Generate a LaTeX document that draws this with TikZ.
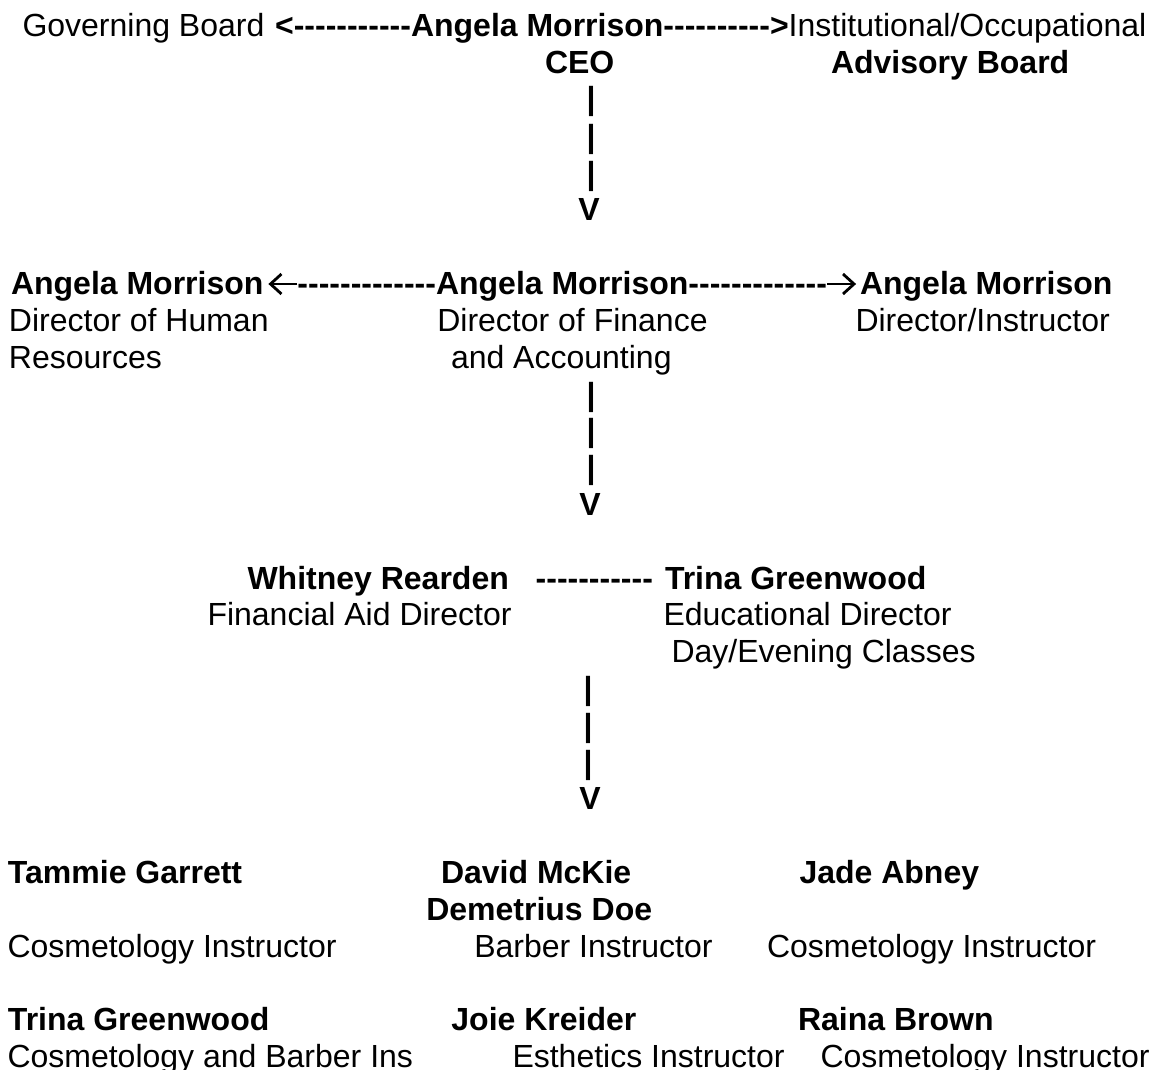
\documentclass[tikz,border=0pt]{standalone}
\usepackage{fontspec}
\newfontfamily\af{Liberation Sans}
\ExplSyntaxOn
\cs_new:Npn \dashrun #1 {\prg_replicate:nn{#1}{-\kern0pt}}
\ExplSyntaxOff
\tikzset{
  rg/.style={inner sep=0pt, outer sep=0pt, anchor=base west, font=\af\fontsize{32}{36.85}\selectfont},
  bd/.style={inner sep=0pt, outer sep=0pt, anchor=base west, font=\af\bfseries\fontsize{32}{36.85}\selectfont},
  bar/.style={bd, anchor=base},
  glyph/.style={line width=2.8pt, line cap=butt, line join=miter}
}
\begin{document}
\begin{tikzpicture}[x=1pt,y=-1pt]
\fill[white] (0,0) rectangle (1153,1070);
\useasboundingbox (0,0) rectangle (1153,1070);
% row 0-1
\node[rg] (gov) at (22.5,36.5) {Governing Board};
\node[bd] (ceo) at (411,36.5) {Angela Morrison};
\node[bd, anchor=base east] (cl) at (ceo.base west) {<\dashrun{11}};
\node[bd] (cr) at (ceo.base east) {\dashrun{10}>};
\node[rg] (iob) at (cr.base east) {Institutional/Occupational};
\node[bd] (ceot) at (545,73.3) {CEO};
\node[bd] (adv) at (831,73.3) {Advisory Board};
% connector 1
\node[bar] (pa1) at (591,110) {|};
\node[bar] (pa2) at (591,147) {|};
\node[bar] (pa3) at (591,184) {|};
\node[bar] (va) at (589,220.5) {V};
% row 7-9
\node[bd] (hr) at (11,294.5) {Angela Morrison};
\node[bd] (fin) at (436,294.5) {Angela Morrison};
\node[bd, anchor=base east] (al) at (fin.base west) {\dashrun{13}};
\node[bd] (ar) at (fin.base east) {\dashrun{13}};
\node[bd] (dir) at ([xshift=33pt]ar.base east) {Angela Morrison};
\coordinate (alE) at ([yshift=10.5pt]al.base west);
\coordinate (alT) at ([xshift=-27pt,yshift=10.5pt]al.base west);
\draw[glyph] (alE) -- (alT);
\draw[glyph] ([xshift=11pt,yshift=10pt]alT) -- (alT) -- ([xshift=11pt,yshift=-10pt]alT);
\coordinate (arS) at ([yshift=10.5pt]ar.base east);
\coordinate (arT) at ([xshift=27pt,yshift=10.5pt]ar.base east);
\draw[glyph] (arS) -- (arT);
\draw[glyph] ([xshift=-11pt,yshift=10pt]arT) -- (arT) -- ([xshift=-11pt,yshift=-10pt]arT);
\node[rg] (hr1) at (9,331.3) {Director of Human};
\node[rg] (hr2) at (9,368.2) {Resources};
\node[rg] (fin1) at (437.3,331.3) {Director of Finance};
\node[rg] (fin2) at (451,368.2) {and Accounting};
\node[rg] (dir1) at (855.5,331.3) {Director/Instructor};
% connector 2
\node[bar] (pb1) at (591,405) {|};
\node[bar] (pb2) at (591,441.8) {|};
\node[bar] (pb3) at (591,478.6) {|};
\node[bar] (vb) at (590,515.3) {V};
% row 15-17
\node[bd] (wr) at (247.5,589) {Whitney Rearden};
\node[bd] (wd) at (535.7,589) {\dashrun{11}};
\node[bd] (tg) at (665,589) {Trina Greenwood};
\node[rg] (wr1) at (207.5,625.8) {Financial Aid Director};
\node[rg] (tg1) at (663.5,625.8) {Educational Director};
\node[rg] (tg2) at (671.5,662.6) {Day/Evening Classes};
% connector 3
\node[bar] (pc1) at (588,699.4) {|};
\node[bar] (pc2) at (588,736.2) {|};
\node[bar] (pc3) at (588,773) {|};
\node[bar] (vc) at (590,809.9) {V};
% rows 23-25
\node[bd] (tga) at (8,883.2) {Tammie Garrett};
\node[bd] (dm) at (441,883.2) {David McKie};
\node[bd] (ja) at (799.5,883.2) {Jade Abney};
\node[bd] (dd) at (426.3,920.2) {Demetrius Doe};
\node[rg] (tga1) at (7.5,957.1) {Cosmetology Instructor};
\node[rg] (dm1) at (474.3,957.1) {Barber Instructor};
\node[rg] (ja1) at (767,957.1) {Cosmetology Instructor};
% rows 27-28
\node[bd] (tgb) at (8,1030.8) {Trina Greenwood};
\node[bd] (jk) at (451.4,1030.8) {Joie Kreider};
\node[bd] (rb) at (798,1030.8) {Raina Brown};
\node[rg] (tgb1) at (7.5,1067.6) {Cosmetology and Barber Ins};
\node[rg] (jk1) at (512.5,1067.6) {Esthetics Instructor};
\node[rg] (rb1) at (820.5,1067.6) {Cosmetology Instructor};
\end{tikzpicture}
\end{document}
